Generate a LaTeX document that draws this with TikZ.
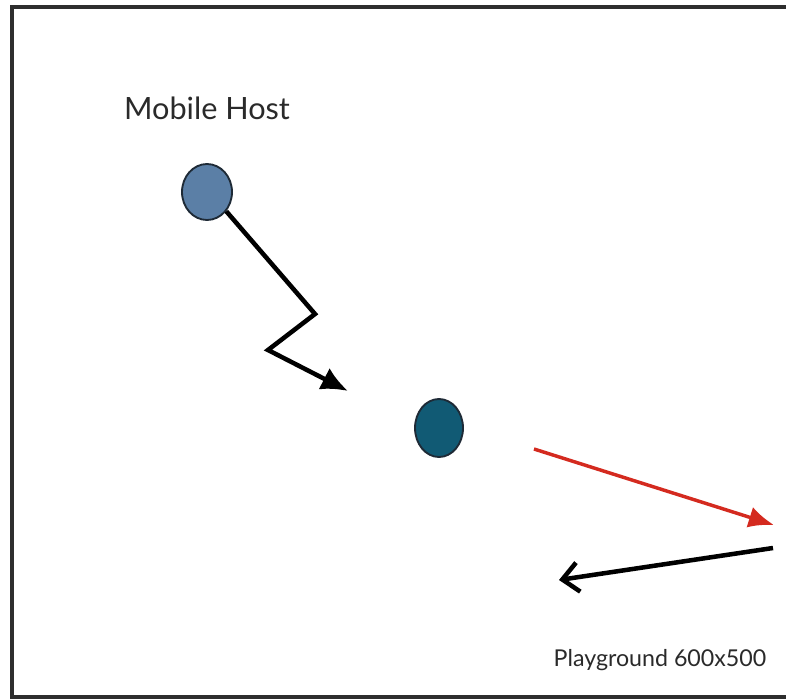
\documentclass[tikz,border=0pt]{standalone}
\usepackage{fontspec}
\setmainfont{Lato}
\usetikzlibrary{arrows.meta,shapes.geometric}
\definecolor{hostblue}{HTML}{5B7FA6}
\definecolor{hostteal}{HTML}{115A74}
\definecolor{hostedge}{HTML}{1E2A36}
\definecolor{moveRed}{HTML}{D42A1F}
\definecolor{framegray}{HTML}{2E2E2E}
\definecolor{labelgray}{HTML}{2A2A2A}
\tikzset{
  host/.style={ellipse, draw=hostedge, line width=1.4pt, inner sep=0pt},
  move/.style={line width=3.4pt, line join=miter},
  label/.style={text=labelgray, inner sep=0pt, anchor=center},
}
\begin{document}
\begin{tikzpicture}[x=0.75pt,y=-0.75pt]
  \useasboundingbox (0,0) rectangle (786,700);
  % playground frame (right edge runs past the page)
  \draw[framegray, line width=2.4pt] (12,7) rectangle (830,697);

  \node[label, font=\fontsize{23}{26}\selectfont] (title) at (207,108) {Mobile Host};
  \node[label, font=\fontsize{17.4}{20}\selectfont] (play) at (660,660) {Playground 600x500};

  % the two positions of the host
  \node[host, fill=hostblue, minimum width=37.5pt, minimum height=42pt] (start) at (207,192) {};
  \node[host, fill=hostteal, minimum width=36pt, minimum height=43.5pt] (now) at (439,428) {};

  % zigzag path of the host
  \coordinate (z1) at (315,314);
  \coordinate (z2) at (268,350);
  \coordinate (z3) at (348,391);
  \draw[move, -{Latex[length=20pt,width=18pt]}] (start.-45) -- (z1) -- (z2) -- (z3);

  % red heading arrow
  \coordinate (r0) at (534,449);
  \coordinate (r1) at (774,525);
  \draw[moveRed, line width=2.6pt, -{Latex[length=19pt,width=16pt]}] (r0) -- (r1);

  % black return arrow
  \coordinate (b0) at (773,548);
  \coordinate (b1) at (559,580);
  \draw[line width=3.4pt, -{Straight Barb[length=12pt,width=22pt,line width=3.4pt]}] (b0) -- (b1);
\end{tikzpicture}
\end{document}
